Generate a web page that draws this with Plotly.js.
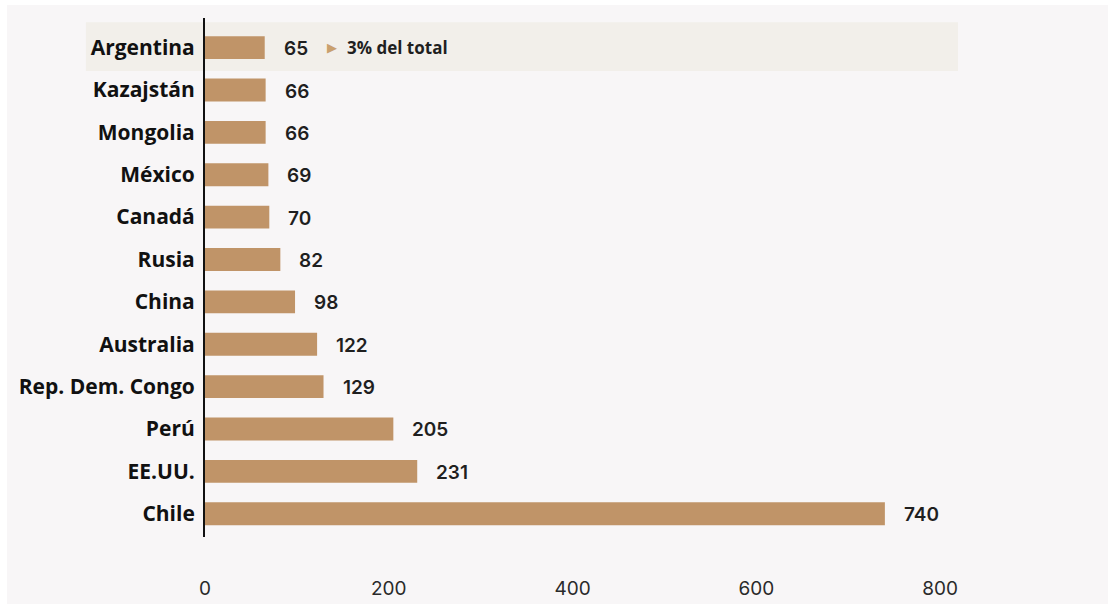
<!DOCTYPE html>
<html>
<head>
<meta charset="utf-8">
<script src="https://cdn.plot.ly/plotly-3.0.1.min.js"></script>
<style>
  html, body { margin: 0; padding: 0; background: #ffffff; width: 1108px; height: 604px; overflow: hidden; }
  #frame { position: absolute; left: 7px; top: 5px; width: 1101px; height: 599px; background: #f8f6f7; }
  #chart { width: 1101px; height: 599px; }
</style>
</head>
<body>
<div id="frame"><div id="chart"></div></div>
<script>
const countries = ["Argentina", "Kazajstán", "Mongolia", "México", "Canadá", "Rusia", "China", "Australia", "Rep. Dem. Congo", "Perú", "EE.UU.", "Chile"];
const values = [65, 66, 66, 69, 70, 82, 98, 122, 129, 205, 231, 740];
const tickValues = [0, 200, 400, 600, 800];
const highlightNote = "3% del total";
const highlightCountry = "Argentina";

const barColor = "#c09468";
const labelFont = "'Open Sans', 'DejaVu Sans', sans-serif";
const numFont = "Inter, 'Open Sans', sans-serif";

const trace = {
  type: "bar",
  orientation: "h",
  x: values,
  y: countries,
  marker: { color: barColor },
  width: 0.54,
  hoverinfo: "skip"
};

const annotations = values.map((v, i) => ({
  x: v, y: countries[i], xref: "x", yref: "y",
  text: String(v), showarrow: false, xanchor: "left", yanchor: "middle",
  xshift: 17, yshift: -1,
  font: { family: numFont, size: 19, color: "#1f1f1f", weight: 600 }
}));

const hiIdx = countries.indexOf(highlightCountry);
annotations.push({
  x: values[hiIdx], y: highlightCountry, xref: "x", yref: "y",
  text: "▶", showarrow: false, xanchor: "left", yanchor: "middle",
  xshift: 60, yshift: 0,
  font: { family: "DejaVu Sans, sans-serif", size: 13, color: "#c9a06e" }
});
annotations.push({
  x: values[hiIdx], y: highlightCountry, xref: "x", yref: "y",
  text: highlightNote, showarrow: false, xanchor: "left", yanchor: "middle",
  xshift: 80, yshift: 0,
  font: { family: labelFont, size: 17, color: "#1f1f1f", weight: 700 }
});

const layout = {
  width: 1101, height: 599,
  margin: { l: 198, r: 168, t: 13, b: 67 },
  paper_bgcolor: "rgba(0,0,0,0)",
  plot_bgcolor: "rgba(0,0,0,0)",
  showlegend: false,
  bargap: 0.46,
  xaxis: {
    range: [0, 800],
    tickvals: tickValues,
    ticktext: tickValues.map(String),
    showgrid: false, zeroline: false, showline: false,
    ticks: "",
    ticklabelstandoff: 38,
    tickfont: { family: numFont, size: 19, color: "#2a2a2a" },
    fixedrange: true
  },
  yaxis: {
    type: "category",
    categoryorder: "array",
    categoryarray: countries,
    range: [11.55, -0.70],
    showgrid: false, zeroline: false,
    showline: true, linecolor: "#111111", linewidth: 2,
    ticks: "",
    ticklabelstandoff: 4,
    tickfont: { family: labelFont, size: 21, color: "#111111", weight: 700 },
    fixedrange: true
  },
  shapes: [{
    type: "rect", layer: "below",
    xref: "paper", yref: "y",
    x0: -0.162, x1: 1.0245,
    y0: hiIdx - 0.6, y1: hiIdx + 0.55,
    fillcolor: "#f2efea", line: { width: 0 }
  }],
  annotations: annotations
};

Plotly.newPlot("chart", [trace], layout, { displayModeBar: false, staticPlot: true });
</script>
</body>
</html>
